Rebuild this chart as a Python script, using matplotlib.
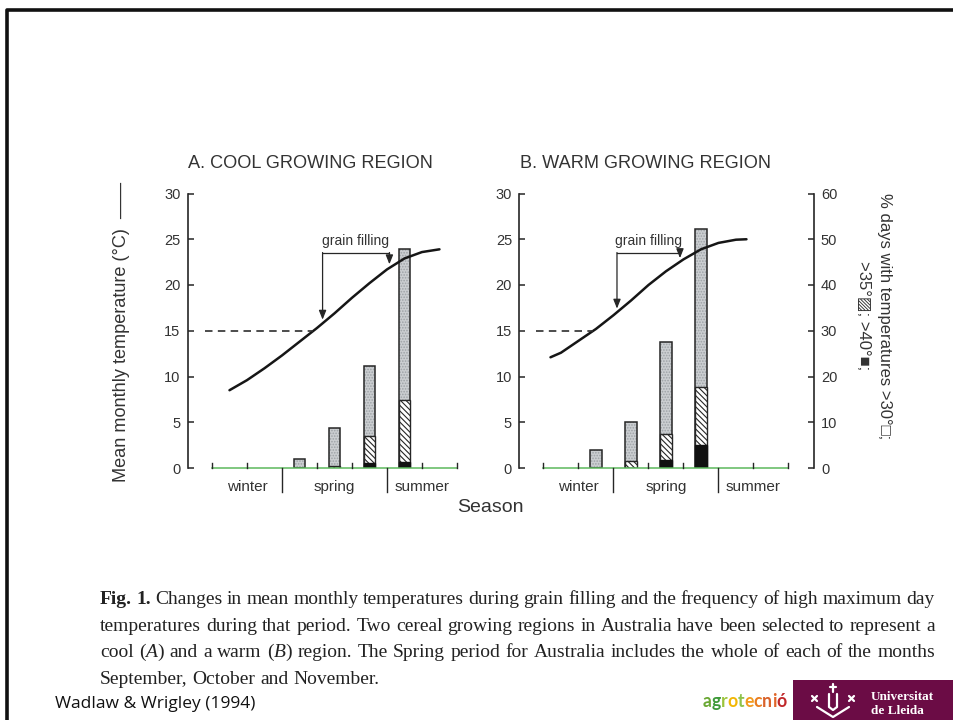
import re
import matplotlib
matplotlib.use("Agg")
import matplotlib.pyplot as plt
from matplotlib.lines import Line2D
from matplotlib.patches import Rectangle
from matplotlib import font_manager
import numpy as np

plt.rcParams["font.family"] = ["Liberation Sans", "DejaVu Sans"]
plt.rcParams["hatch.linewidth"] = 0.8

# ---------------------------------------------------------------- data
# months counted from the start of winter (June = 0 ... December ends at 7)
season_labels = ["winter", "spring", "summer"]
season_edges = [0, 2, 5, 7]
month_ticks = [0, 1, 3, 4, 6, 7]

temp_ticks = [0, 5, 10, 15, 20, 25, 30]
pct_ticks = [0, 10, 20, 30, 40, 50, 60]
threshold_temp = 15

# A. cool growing region
cool_curve_month = [0.5, 1.0, 1.5, 2.0, 2.5, 3.0, 3.5, 4.0, 4.5, 5.0, 5.5, 6.0, 6.5]
cool_curve_temp = [8.5, 9.6, 10.9, 12.3, 13.8, 15.3, 16.9, 18.6, 20.2, 21.7, 22.9, 23.6, 23.9]
cool_bar_month = [2.5, 3.5, 4.5, 5.5]
cool_pct_over30 = [2.0, 8.8, 22.3, 47.8]
cool_pct_over35 = [0.0, 0.5, 7.1, 14.9]
cool_pct_over40 = [0.0, 0.0, 1.2, 1.4]
cool_grain_fill = [3.16, 5.07]

# B. warm growing region
warm_curve_month = [0.2, 0.5, 1.0, 1.5, 2.0, 2.5, 3.0, 3.5, 4.0, 4.5, 5.0, 5.5, 5.8]
warm_curve_temp = [12.1, 12.6, 13.9, 15.2, 16.7, 18.3, 20.0, 21.5, 22.8, 23.9, 24.6, 24.95, 25.0]
warm_bar_month = [1.5, 2.5, 3.5, 4.5]
warm_pct_over30 = [4.0, 10.1, 27.5, 52.2]
warm_pct_over35 = [0.0, 1.5, 7.5, 17.7]
warm_pct_over40 = [0.0, 0.0, 1.7, 5.1]
warm_grain_fill = [2.1, 3.9]

caption_lines = [
    "**Fig.** **1.** Changes in mean monthly temperatures during grain filling and the frequency of high maximum day",
    "temperatures during that period. Two cereal growing regions in Australia have been selected to represent a",
    "cool (_A_) and a warm (_B_) region. The Spring period for Australia includes the whole of each of the months",
    "September, October and November.",
]
source_note = "Wadlaw & Wrigley (1994)"

# ---------------------------------------------------------------- figure
W, H = 954, 720
fig = plt.figure(figsize=(W / 100, H / 100), dpi=100)
fig.patch.set_facecolor("white")


def fx(px):
    return px / W


def fy(py):
    return 1 - py / H


INK = "#262626"
TXT = "#333333"
X_LO, X_HI = -0.7, 7.73
BAR_W = 0.34
BRACKET_TOP = 23.55

ax_bottom = fy(468)
ax_height = (468 - 193.5) / H
ax_width = 295 / W


def draw_panel(left_px, title, curve_m, curve_t, bar_m, p30, p35, p40, grain, right_axis):
    ax = fig.add_axes([fx(left_px), ax_bottom, ax_width, ax_height])
    axp = ax.twinx()
    ax.set_zorder(axp.get_zorder() + 1)
    ax.patch.set_visible(False)

    ax.set_xlim(X_LO, X_HI)
    ax.set_ylim(0, 30)
    axp.set_ylim(0, 60)

    for name in ("top", "right", "bottom"):
        ax.spines[name].set_visible(False)
    ax.spines["left"].set_color(INK)
    ax.spines["left"].set_linewidth(1.2)
    ax.set_xticks([])
    ax.set_yticks(temp_ticks)
    ax.tick_params(axis="y", direction="in", length=4, width=1.1, color=INK,
                   labelsize=10.5, labelcolor=TXT, pad=5)

    for name in ("top", "left", "bottom"):
        axp.spines[name].set_visible(False)
    if right_axis:
        axp.spines["right"].set_color(INK)
        axp.spines["right"].set_linewidth(1.2)
        axp.set_yticks(pct_ticks)
        axp.tick_params(axis="y", direction="in", length=4, width=1.1, color=INK,
                        labelsize=10.5, labelcolor=TXT, pad=5)
    else:
        axp.spines["right"].set_visible(False)
        axp.set_yticks([])

    # stacked frequency bars: >30 (stippled grey), >35 (hatched), >40 (black)
    axp.bar(bar_m, p30, width=BAR_W, color="#cbced1", hatch="......",
            edgecolor="#9da2a6", linewidth=0)
    axp.bar(bar_m, p30, width=BAR_W, fill=False, edgecolor=INK, linewidth=1.1)
    axp.bar(bar_m, p35, width=BAR_W, facecolor="white", edgecolor=INK,
            hatch="\\\\\\\\\\\\", linewidth=1.0)
    axp.bar(bar_m, p40, width=BAR_W, color="#111111", edgecolor="#111111", linewidth=1.0)

    # season axis
    ax.plot([season_edges[0], season_edges[-1]], [0, 0], color="#5cb85c", lw=1.1,
            clip_on=False, zorder=3)
    for m in month_ticks:
        ax.plot([m, m], [0, 0.6], color=INK, lw=1.0, clip_on=False, zorder=3)
    for m in season_edges[1:-1]:
        ax.plot([m, m], [0, -2.6], color=INK, lw=1.0, clip_on=False, zorder=3)
    for i, lab in enumerate(season_labels):
        centre = (season_edges[i] + season_edges[i + 1]) / 2
        ax.text(centre, -2.05, lab, ha="center", va="center", fontsize=11,
                color=TXT, clip_on=False)

    # mean monthly temperature
    ax.plot(curve_m, curve_t, color="#161616", lw=1.8, solid_capstyle="round", zorder=4)
    cross = np.interp(threshold_temp, curve_t, curve_m)
    ax.plot([-0.2, cross], [threshold_temp, threshold_temp], color="#2e2e2e", lw=1.2,
            dashes=(4.5, 3.2), zorder=4)

    # grain filling bracket
    g0, g1 = grain
    tips = [np.interp(g, curve_m, curve_t) + 0.4 for g in grain]
    ax.plot([g0, g1], [BRACKET_TOP, BRACKET_TOP], color=INK, lw=0.9, zorder=4)
    for g, tip in zip(grain, tips):
        ax.annotate("", xy=(g, tip), xytext=(g, BRACKET_TOP),
                    arrowprops=dict(arrowstyle="-|>,head_length=0.55,head_width=0.22",
                                    color=INK, lw=0.9, shrinkA=0, shrinkB=0,
                                    mutation_scale=10),
                    zorder=4)
    ax.text((g0 + g1) / 2, BRACKET_TOP + 1.25, "grain filling", ha="center", va="center",
            fontsize=10, color=TXT)

    fig.text(fx(left_px + 1), fy(164), title, ha="left", va="center",
             fontsize=13.1, color=TXT)
    return ax, axp


draw_panel(187.5, "A. COOL GROWING REGION", cool_curve_month, cool_curve_temp,
           cool_bar_month, cool_pct_over30, cool_pct_over35, cool_pct_over40,
           cool_grain_fill, right_axis=False)
draw_panel(519, "B. WARM GROWING REGION", warm_curve_month, warm_curve_temp,
           warm_bar_month, warm_pct_over30, warm_pct_over35, warm_pct_over40,
           warm_grain_fill, right_axis=True)

# axis titles
fig.text(fx(122), fy(332), "Mean monthly temperature (°C)  ——", rotation=90,
         ha="center", va="center", fontsize=13.1, color=TXT)
fig.text(fx(874), fy(316), "% days with temperatures >30°□;\n>35°▨; >40°■;",
         rotation=270, ha="center", va="center", multialignment="center",
         linespacing=1.45, fontsize=12, color=TXT,
         family=["Liberation Sans", "DejaVu Sans"])
fig.text(fx(490), fy(508), "Season", ha="center", va="center", fontsize=14, color=TXT)

# ---------------------------------------------------------------- caption
renderer = fig.canvas.get_renderer()
CAPTION_FONT = dict(family="Liberation Serif", fontsize=14, color="#222222")


def word_parts(word):
    if word.startswith("**") and word.endswith("**"):
        return [(word[2:-2], "bold", "normal")]
    parts = []
    for piece in re.split(r"(_[^_]+_)", word):
        if not piece:
            continue
        if len(piece) > 2 and piece[0] == "_" and piece[-1] == "_":
            parts.append((piece[1:-1], "normal", "italic"))
        else:
            parts.append((piece, "normal", "normal"))
    return parts


def text_width(t):
    return t.get_window_extent(renderer).width


probe_a = fig.text(0, 0, "n n", **CAPTION_FONT)
probe_b = fig.text(0, 0, "nn", **CAPTION_FONT)
SPACE_PX = text_width(probe_a) - text_width(probe_b)
probe_a.remove()
probe_b.remove()


def set_line(line, x0, x1, baseline, justify):
    words = []
    total = 0.0
    for w in line.split():
        segs = []
        for txt, weight, style in word_parts(w):
            t = fig.text(0, 0, txt, weight=weight, style=style, ha="left",
                         va="baseline", **CAPTION_FONT)
            segs.append((t, text_width(t)))
            total += segs[-1][1]
        words.append(segs)
    if justify and len(words) > 1:
        gap = (x1 - x0 - total) / (len(words) - 1)
    else:
        gap = SPACE_PX
    x = x0
    for segs in words:
        for t, w in segs:
            t.set_position((fx(x), fy(baseline)))
            x += w
        x += gap


caption_baselines = [604, 631, 657, 684]
for i, (line, base) in enumerate(zip(caption_lines, caption_baselines)):
    set_line(line, 100, 935, base, justify=(i < len(caption_lines) - 1))


def first_font(candidates):
    for name in candidates:
        try:
            font_manager.findfont(font_manager.FontProperties(family=name),
                                  fallback_to_default=False)
            return name
        except Exception:
            continue
    return "DejaVu Sans"


note_font = first_font(["Liberation Sans Narrow", "Open Sans", "Liberation Sans"])
fig.text(fx(55), fy(704), source_note, ha="left", va="center", fontsize=12.5,
         family=note_font, color="#111111")

# ---------------------------------------------------------------- logos
logo_letters = "agrotecnió"
logo_colors = ["#6aa834", "#3f9a3a", "#9cc43c", "#f2b705", "#8fc24a",
               "#f39a1e", "#e97d1f", "#d9622b", "#e0662a", "#c0282b"]
logo_x1 = 787.0
logo_span = 84.0
probe = fig.text(0, 0, logo_letters, fontsize=13, weight="bold", family="Lato")
logo_size = 13 * logo_span / text_width(probe)
probe.remove()
logo_texts = []
for ch, col in zip(logo_letters, logo_colors):
    t = fig.text(0, 0, ch, ha="left", va="baseline", fontsize=logo_size,
                 weight="bold", color=col, family="Lato")
    logo_texts.append((t, text_width(t)))
x = logo_x1 - sum(w for _, w in logo_texts)
for t, w in logo_texts:
    t.set_position((fx(x), fy(707)))
    x += w

maroon = "#6b0c45"
fig.add_artist(Rectangle((fx(793), 0), 1 - fx(793), fy(680), transform=fig.transFigure,
                         facecolor=maroon, edgecolor="none"))
fig.text(fx(871), fy(697), "Universitat", ha="left", va="center", fontsize=9.5,
         weight="bold", color="white", family="Liberation Serif")
fig.text(fx(871), fy(711), "de Lleida", ha="left", va="center", fontsize=9.5,
         weight="bold", color="white", family="Liberation Serif")


def fig_line(xs, ys, **kw):
    fig.add_artist(Line2D([fx(v) for v in xs], [fy(v) for v in ys],
                          transform=fig.transFigure, **kw))


white = dict(color="white", lw=1.6, solid_capstyle="round")
fig_line([833, 833], [684, 692], **white)
fig_line([830, 836], [687, 687], **white)
fig_line([829, 829, 833, 837, 837], [694, 707, 710, 707, 694], **white)
fig_line([817, 833, 849], [707, 717, 707], **white)
fig_line([812, 817], [696, 701], **white)
fig_line([812, 817], [701, 696], **white)
fig_line([849, 854], [696, 701], **white)
fig_line([849, 854], [701, 696], **white)

# page frame
fig_line([7, 7, 954], [720, 10, 10], color="#111111", lw=2.6)

fig.savefig("out.png", dpi=100)
